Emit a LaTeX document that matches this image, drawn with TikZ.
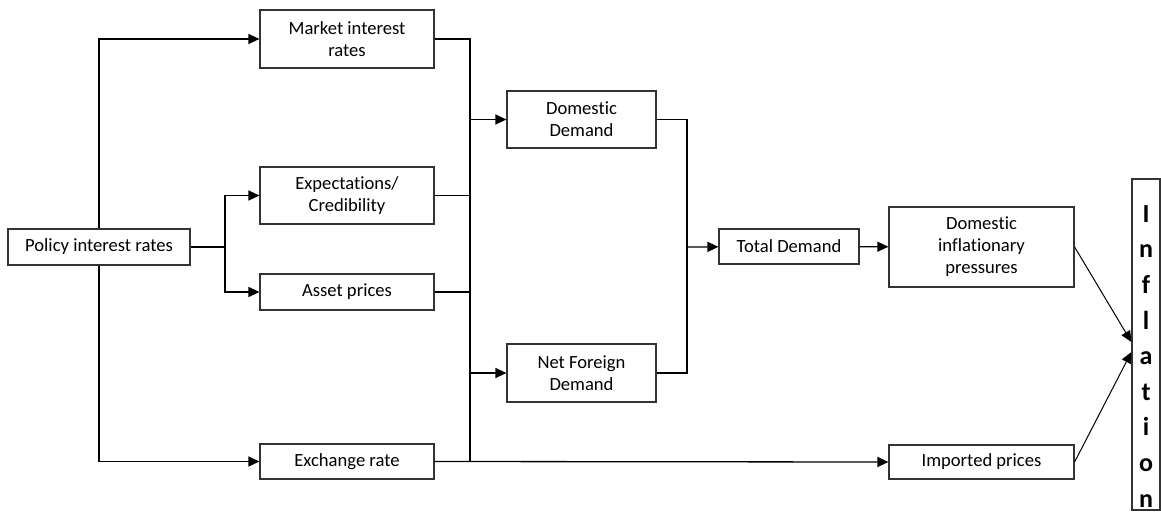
\documentclass[tikz,border=0pt]{standalone}
\usepackage{fontspec}
\setmainfont[Ligatures={CommonOff}]{Carlito}
\usetikzlibrary{arrows.meta}

\begin{document}
\begin{tikzpicture}[x=1pt, y=-1pt, line width=1.3pt, >={Triangle[length=11pt,width=10pt]},
  box/.style={draw=black!80, line width=1.2pt, align=center, inner sep=0pt,
    font=\fontsize{18.6}{22}\selectfont}]
 \useasboundingbox (0,0) rectangle (1161,516);

 % Nodes for the instruments
  \node[box, minimum width=182pt, minimum height=36pt] (P) at (99,247) {Policy interest rates};
  \node[box, minimum width=174pt, minimum height=58pt] (M) at (347,39) {Market interest\\rates};
  \node[box, minimum width=174pt, minimum height=57pt] (E) at (347,195.5) {Expectations/\\Credibility};
  \node[box, minimum width=174pt, minimum height=36pt] (AP) at (347,292) {Asset prices};
  \node[box, minimum width=174pt, minimum height=35pt] (X) at (347,461.5) {Exchange rate};

  % Nodes for demand
  \node[box, minimum width=149pt, minimum height=57pt] (DD) at (581.5,119.5) {Domestic\\Demand};
  \node[box, minimum width=149pt, minimum height=58pt] (NF) at (581.5,373) {Net Foreign\\Demand};
  \node[box, minimum width=140pt, minimum height=35pt] (TD) at (789,246.5) {Total Demand};

  % Nodes for prices
  \node[box, minimum width=185pt, minimum height=80pt] (DI) at (981.5,247) {Domestic\\inflationary\\pressures};
  \node[box, minimum width=185pt, minimum height=34pt] (IP) at (981.5,462) {Imported prices};
  \node[box, minimum width=28pt, minimum height=331pt] (I) at (1146,344.5)
    {\parbox[c][331pt][b]{26pt}{\centering\fontsize{26}{35.6}\selectfont\bfseries
      I\\n\\f\\l\\a\\t\\i\\o\\n\par\vspace{3pt}}};

  % Junctions
  \coordinate (B) at (225,247);
  \coordinate (T) at (470,39);
  \coordinate (U) at (470,461);
  \coordinate (J) at (687,247);

  % Arrows from policy rates
  \draw[->] (P.north) |- (M.west);
  \draw[->] (P.south) |- (X.west);
  \draw (P.east) -- (B);
  \draw[->] (B) |- (E.west);
  \draw[->] (B) |- (AP.west);

  % Arrows into demand
  \draw (M.east) -- (T) -- (U);
  \draw (E.east) -- (E.east -| T);
  \draw (AP.east) -- (AP.east -| T);
  \draw[->] (DD.west -| T) -- (DD.west);
  \draw[->] (NF.west -| T) -- (NF.west);
  \draw[->] (X.east) -- (IP.west);

  % Arrows for total demand
  \draw (DD.east) -| (J) |- (NF.east);
  \draw[->] (J) -- (TD);
  \draw[->] (TD) -- (DI);

  % Arrows into inflation
  \draw[->, line width=1pt] (DI.east) -- ([yshift=2.5pt]I.west);
  \draw[->, line width=1pt] (IP.east) -- ([yshift=-7.5pt]I.west);
\end{tikzpicture}
\end{document}
